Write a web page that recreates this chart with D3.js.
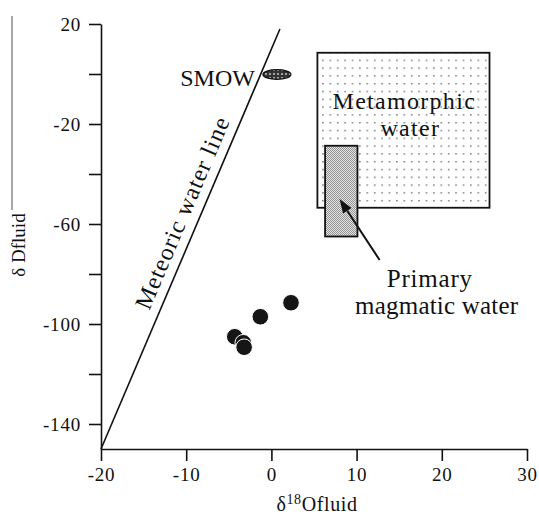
<!DOCTYPE html>
<html>
<head>
<meta charset="utf-8">
<script src="https://d3js.org/d3.v7.min.js"></script>
<style>
	body { margin: 0; background: #fff; }
	svg { display: block; font-family: "Liberation Serif", "Times New Roman", "DejaVu Serif", serif; }
</style>
</head>
<body>
<div id="chart"></div>
<script>
(function () {
'use strict';

// fluid isotope samples (d18O, dD)
var sampleO = [2.3, -1.3, -4.3, -3.3, -3.2];
var sampleD = [-91.5, -97.1, -105.1, -107.5, -109.3];

// meteoric water line end points
var meteoricO = [-20, 1];
var meteoricD = [-150, 18];

// SMOW marker centre
var smowO = 0.65;
var smowD = -0.2;

// boxes: [O min, O max, D min, D max]
var metamorphicBox = [5.4, 25.6, -53.5, 8.5];
var magmaticBox = [6.3, 10.1, -65, -28.7];

// arrow from label to magmatic box
var arrowO = [12.7, 8.0];
var arrowD = [-74.4, -50];

var xTicks = [-20, -10, 0, 10, 20, 30];
var yTicks = [20, 0, -20, -40, -60, -80, -100, -120, -140];
var yTickLabels = [20, -20, -60, -100, -140];

var width = 539, height = 515;
var serif = "'Liberation Serif', 'Times New Roman', serif";

var svg = d3.select("#chart").append("svg")
	.attr("width", width)
	.attr("height", height);

var x = d3.scaleLinear().domain([-20, 30]).range([101, 527]);
var y = d3.scaleLinear().domain([-150, 20]).range([449, 24]);

// patterns
var defs = svg.append("defs");
var dots = defs.append("pattern")
	.attr("id", "dots")
	.attr("patternUnits", "userSpaceOnUse")
	.attr("x", 2).attr("y", 3)
	.attr("width", 7.4).attr("height", 7.8);
dots.append("rect").attr("width", 7.4).attr("height", 7.8).attr("fill", "#fff");
dots.append("rect").attr("x", 2).attr("y", 2).attr("width", 1.4).attr("height", 1.4).attr("fill", "#666");

var stipple = defs.append("pattern")
	.attr("id", "stipple")
	.attr("patternUnits", "userSpaceOnUse")
	.attr("width", 2).attr("height", 2);
stipple.append("rect").attr("width", 2).attr("height", 2).attr("fill", "#e2e2e2");
stipple.append("rect").attr("width", 1).attr("height", 1).attr("fill", "#959595");
stipple.append("rect").attr("x", 1).attr("y", 1).attr("width", 1).attr("height", 1).attr("fill", "#959595");

var mesh = defs.append("pattern")
	.attr("id", "mesh")
	.attr("patternUnits", "userSpaceOnUse")
	.attr("width", 4).attr("height", 4);
mesh.append("rect").attr("width", 4).attr("height", 4).attr("fill", "#333");
mesh.append("circle").attr("cx", 2).attr("cy", 2).attr("r", 1.1).attr("fill", "#bbb");

// stray frame line at the left edge
svg.append("line")
	.attr("x1", 12).attr("x2", 12)
	.attr("y1", 16).attr("y2", 210)
	.attr("stroke", "#888")
	.attr("stroke-width", 1.5);

// axes
var xAxis = d3.axisBottom(x)
	.tickValues(xTicks)
	.tickSize(12)
	.tickSizeOuter(0)
	.tickPadding(7)
	.tickFormat(function(d){ return String(d); });

var yAxis = d3.axisLeft(y)
	.tickValues(yTicks)
	.tickSize(12)
	.tickSizeOuter(0)
	.tickPadding(8)
	.tickFormat(function(d){ return yTickLabels.indexOf(d) >= 0 ? String(d) : ""; });

var gx = svg.append("g")
	.attr("transform", "translate(0," + y(-150) + ")")
	.call(xAxis);
var gy = svg.append("g")
	.attr("transform", "translate(" + x(-20) + ",0)")
	.call(yAxis);

[gx, gy].forEach(function(g){
	g.attr("font-family", null);
	g.selectAll("path, line").attr("stroke", "#111").attr("stroke-width", 1.6);
	g.selectAll("text")
		.attr("fill", "#111")
		.style("font-family", serif)
		.style("font-size", "19px")
		.style("letter-spacing", "0.8px");
});

// axis titles
var xTitle = svg.append("text")
	.attr("x", 317)
	.attr("y", 511)
	.attr("text-anchor", "middle")
	.attr("fill", "#111")
	.style("font-size", "20px")
	.style("letter-spacing", "0.6px");
xTitle.append("tspan").text("δ");
xTitle.append("tspan").attr("dy", -7).style("font-size", "14px").text("18");
xTitle.append("tspan").attr("dy", 7).text("Ofluid");

svg.append("text")
	.attr("transform", "translate(25,245) rotate(-90)")
	.attr("text-anchor", "middle")
	.attr("fill", "#111")
	.style("font-size", "19px")
	.text("δ Dfluid");

// metamorphic water box
svg.append("rect")
	.attr("x", x(metamorphicBox[0]))
	.attr("y", y(metamorphicBox[3]))
	.attr("width", x(metamorphicBox[1]) - x(metamorphicBox[0]))
	.attr("height", y(metamorphicBox[2]) - y(metamorphicBox[3]))
	.attr("fill", "url(#dots)")
	.attr("stroke", "#111")
	.attr("stroke-width", 1.8);

svg.append("text")
	.attr("x", x(15.6)).attr("y", y(-14))
	.attr("text-anchor", "middle")
	.attr("fill", "#111")
	.style("font-size", "24px")
	.style("letter-spacing", "1.3px")
	.text("Metamorphic");
svg.append("text")
	.attr("x", x(16.3)).attr("y", y(-24.8))
	.attr("text-anchor", "middle")
	.attr("fill", "#111")
	.style("font-size", "24px")
	.style("letter-spacing", "1.3px")
	.text("water");

// primary magmatic water box
svg.append("rect")
	.attr("x", x(magmaticBox[0]))
	.attr("y", y(magmaticBox[3]))
	.attr("width", x(magmaticBox[1]) - x(magmaticBox[0]))
	.attr("height", y(magmaticBox[2]) - y(magmaticBox[3]))
	.attr("fill", "url(#stipple)")
	.attr("stroke", "#111")
	.attr("stroke-width", 1.8);

// arrow
var ax1 = x(arrowO[0]), ay1 = y(arrowD[0]), ax2 = x(arrowO[1]), ay2 = y(arrowD[1]);
var ang = Math.atan2(ay2 - ay1, ax2 - ax1);
var headLen = 14, headW = 5;
var bx = ax2 - headLen * Math.cos(ang), by = ay2 - headLen * Math.sin(ang);
svg.append("line")
	.attr("x1", ax1).attr("y1", ay1)
	.attr("x2", bx).attr("y2", by)
	.attr("stroke", "#111")
	.attr("stroke-width", 2);
svg.append("path")
	.attr("d", "M" + ax2 + "," + ay2 +
		"L" + (bx + headW * Math.sin(ang)) + "," + (by - headW * Math.cos(ang)) +
		"L" + (bx - headW * Math.sin(ang)) + "," + (by + headW * Math.cos(ang)) + "Z")
	.attr("fill", "#111");

svg.append("text")
	.attr("x", x(18.6)).attr("y", y(-85.2))
	.attr("text-anchor", "middle")
	.attr("fill", "#111")
	.style("font-size", "25px")
	.style("letter-spacing", "0.8px")
	.text("Primary");
svg.append("text")
	.attr("x", x(19.4)).attr("y", y(-95.8))
	.attr("text-anchor", "middle")
	.attr("fill", "#111")
	.style("font-size", "25px")
	.style("letter-spacing", "0.2px")
	.text("magmatic water");

// meteoric water line
var mwl = meteoricO.map(function(d, i){ return [d, meteoricD[i]]; });
svg.append("path")
	.datum(mwl)
	.attr("d", d3.line().x(function(d){ return x(d[0]); }).y(function(d){ return y(d[1]); }))
	.attr("fill", "none")
	.attr("stroke", "#111")
	.attr("stroke-width", 1.6);

var mwlAngle = Math.atan2(y(meteoricD[1]) - y(meteoricD[0]), x(meteoricO[1]) - x(meteoricO[0])) * 180 / Math.PI;
svg.append("text")
	.attr("transform", "translate(" + x(-8.5) + "," + y(-58.3) + ") rotate(" + mwlAngle + ")")
	.attr("y", -10)
	.attr("text-anchor", "middle")
	.attr("fill", "#111")
	.style("font-size", "24px")
	.style("letter-spacing", "1px")
	.text("Meteoric water line");

// SMOW
var rx = 14, ry = 4.8;
svg.append("ellipse")
	.attr("cx", x(smowO)).attr("cy", y(smowD))
	.attr("rx", rx).attr("ry", ry)
	.attr("fill", "url(#mesh)")
	.attr("stroke", "#111")
	.attr("stroke-width", 1.2);
svg.append("text")
	.attr("x", x(smowO) - rx - 8)
	.attr("y", y(smowD) + 11)
	.attr("text-anchor", "end")
	.attr("fill", "#111")
	.style("font-size", "24px")
	.text("SMOW");

// samples
var samples = sampleO.map(function(d, i){ return {o: d, d: sampleD[i]}; });
svg.selectAll("circle.sample")
	.data(samples)
	.enter().append("circle")
	.attr("class", "sample")
	.attr("cx", function(d){ return x(d.o); })
	.attr("cy", function(d){ return y(d.d); })
	.attr("r", 8.3)
	.attr("fill", "#161616")
	.attr("stroke", "#fff")
	.attr("stroke-width", 1);

}());
</script>
</body>
</html>
